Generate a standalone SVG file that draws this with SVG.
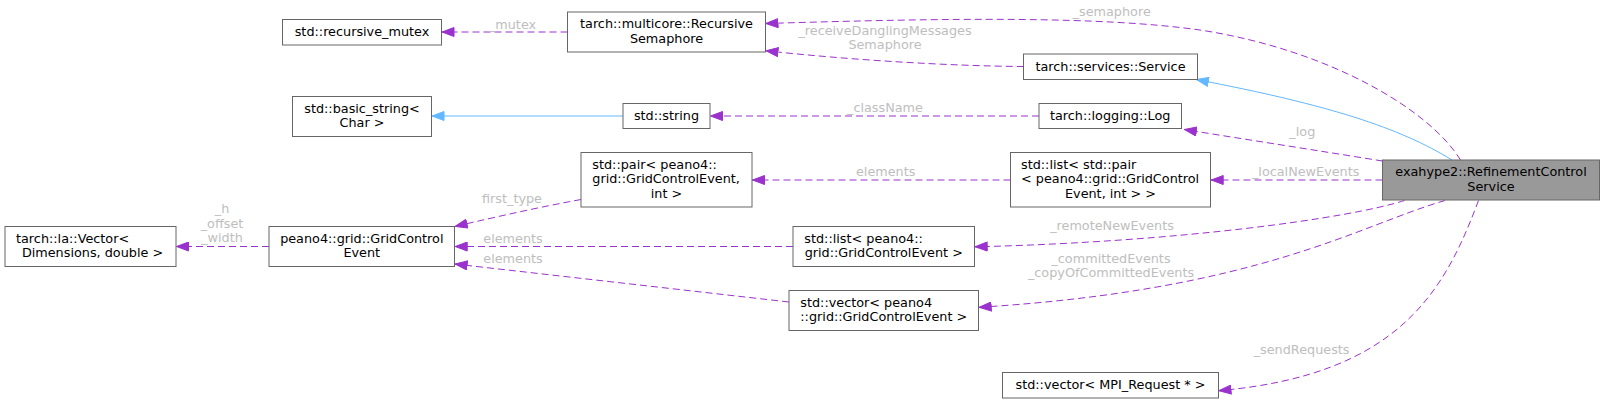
<svg xmlns="http://www.w3.org/2000/svg" width="1604" height="403" viewBox="0 0 1604 403">
<style>
text{font-family:"DejaVu Sans","Liberation Sans",sans-serif;font-size:12.8px;fill:#000}
.m{text-anchor:middle}
.s{text-anchor:start}
.lbl{fill:#bebebe;text-anchor:middle}
.box{fill:#fff;stroke:#666;stroke-width:1}
.main{fill:#999;stroke:#666;stroke-width:1}
.e{fill:none;stroke:#9a32cd;stroke-width:1;stroke-dasharray:7,4;marker-end:url(#ap)}
.b{fill:none;stroke:#63b8ff;stroke-width:1;marker-end:url(#ab)}
</style>
<defs>
<marker id="ap" viewBox="0 0 13 10" refX="13" refY="5" markerWidth="13" markerHeight="10" orient="auto" markerUnits="userSpaceOnUse"><path d="M0.5,0.5 L12.5,5 L0.5,9.5 z" fill="#9a32cd" stroke="#9a32cd" stroke-dasharray="none"/></marker>
<marker id="ab" viewBox="0 0 13 10" refX="13" refY="5" markerWidth="13" markerHeight="10" orient="auto" markerUnits="userSpaceOnUse"><path d="M0.5,0.5 L12.5,5 L0.5,9.5 z" fill="#63b8ff" stroke="#63b8ff" stroke-dasharray="none"/></marker>
</defs>
<rect width="1604" height="403" fill="#fff"/>
<g id="connectors">
<path class="e" d="M567.5,32 L441.5,32"/>
<text class="lbl" x="512.5" y="28.5">_mutex</text>
<path class="e" d="M1460.5,160 C1430,110 1330,50 1200,30 C1100,16 950,18 765.5,23.5"/>
<text class="lbl" x="1111.7" y="16">_semaphore</text>
<path class="e" d="M1023.5,66.5 C950,66 850,60 765.5,50.7"/>
<text class="lbl" x="885" y="35">_receiveDanglingMessages</text>
<text class="lbl" x="885" y="49.4">Semaphore</text>
<path class="b" d="M623,116 L431.5,116"/>
<path class="e" d="M1039,116 L710,116"/>
<text class="lbl" x="885" y="111.8">_className</text>
<path class="e" d="M1382.5,161 C1320,151 1250,140 1184,129.5"/>
<text class="lbl" x="1302.3" y="135.5">_log</text>
<path class="b" d="M1452,160 C1400,128 1330,105 1196,79.5"/>
<path class="e" d="M1010.5,180 L752,180"/>
<text class="lbl" x="885.7" y="176">elements</text>
<path class="e" d="M1382.5,180 L1210.7,180"/>
<text class="lbl" x="1305.7" y="176">_localNewEvents</text>
<path class="e" d="M581,199.5 C540,207 500,216 454.7,226.5"/>
<text class="lbl" x="512" y="202.5">first_type</text>
<path class="e" d="M793,246.5 L454.7,246.5"/>
<text class="lbl" x="513" y="242.8">elements</text>
<path class="e" d="M789,302 L454.7,264"/>
<text class="lbl" x="513" y="262.8">elements</text>
<path class="e" d="M269,246.5 L176,246.5"/>
<text class="lbl" x="222" y="212.8">_h</text>
<text class="lbl" x="222" y="227.5">_offset</text>
<text class="lbl" x="222" y="242">_width</text>
<path class="e" d="M1404.5,200.5 C1350,218 1180,242 974.7,246.8"/>
<text class="lbl" x="1112" y="229.5">_remoteNewEvents</text>
<path class="e" d="M1445,200.5 C1360,225 1260,290 978.7,307.3"/>
<text class="lbl" x="1111" y="262.8">_committedEvents</text>
<text class="lbl" x="1111" y="277.2">_copyOfCommittedEvents</text>
<path class="e" d="M1478.5,200.5 C1445,290 1400,375 1218.5,390.7"/>
<text class="lbl" x="1301.6" y="353.5">_sendRequests</text>
</g>
<g id="n_mutex"><rect class="box" x="282.5" y="19.5" width="159" height="25.5"/><text class="m" x="362" y="36.1">std::recursive_mutex</text></g>
<g id="n_rsem"><rect class="box" x="567.5" y="12" width="198" height="40"/><text class="m" x="666.5" y="28.4">tarch::multicore::Recursive</text><text class="m" x="666.5" y="42.8">Semaphore</text></g>
<g id="n_bstr"><rect class="box" x="292.5" y="96.5" width="139" height="40"/><text class="m" x="362" y="112.9">std::basic_string&lt;</text><text class="m" x="362" y="127.3">Char &gt;</text></g>
<g id="n_str"><rect class="box" x="623" y="103.5" width="87" height="25"/><text class="m" x="666.5" y="120">std::string</text></g>
<g id="n_service"><rect class="box" x="1023.5" y="54" width="174" height="25.5"/><text class="m" x="1110.5" y="70.6">tarch::services::Service</text></g>
<g id="n_log"><rect class="box" x="1039" y="103.5" width="142.5" height="25"/><text class="m" x="1110.2" y="120">tarch::logging::Log</text></g>
<g id="n_pair"><rect class="box" x="581" y="152.5" width="171" height="54.5"/><text class="s" x="592.3" y="168.7">std::pair&lt; peano4::</text><text class="s" x="592.3" y="183.1">grid::GridControlEvent,</text><text class="m" x="666.5" y="197.5">int &gt;</text></g>
<g id="n_lpair"><rect class="box" x="1010.5" y="152.5" width="200" height="54.5"/><text class="s" x="1021" y="168.7">std::list&lt; std::pair</text><text class="s" x="1021" y="183.1">&lt; peano4::grid::GridControl</text><text class="m" x="1110.5" y="197.5">Event, int &gt; &gt;</text></g>
<g id="n_vec"><rect class="box" x="5" y="226.5" width="171" height="40"/><text class="s" x="16" y="242.9">tarch::la::Vector&lt;</text><text class="m" x="92.5" y="257.3">Dimensions, double &gt;</text></g>
<g id="n_gce"><rect class="box" x="269" y="226.5" width="185.5" height="40"/><text class="m" x="361.8" y="242.9">peano4::grid::GridControl</text><text class="m" x="361.8" y="257.3">Event</text></g>
<g id="n_lgce"><rect class="box" x="793" y="226.5" width="181.5" height="40"/><text class="s" x="804.3" y="242.9">std::list&lt; peano4::</text><text class="m" x="883.75" y="257.3">grid::GridControlEvent &gt;</text></g>
<g id="n_vgce"><rect class="box" x="789" y="290.5" width="189.5" height="40"/><text class="s" x="800.3" y="306.9">std::vector&lt; peano4</text><text class="m" x="883.75" y="321.3">::grid::GridControlEvent &gt;</text></g>
<g id="n_mpi"><rect class="box" x="1002.5" y="372.5" width="216" height="25.5"/><text class="m" x="1110.5" y="389.1">std::vector&lt; MPI_Request * &gt;</text></g>
<g id="n_rcs"><rect class="main" x="1382.5" y="160" width="217" height="40"/><text class="m" x="1491" y="176.4">exahype2::RefinementControl</text><text class="m" x="1491" y="190.8">Service</text></g>
</svg>
